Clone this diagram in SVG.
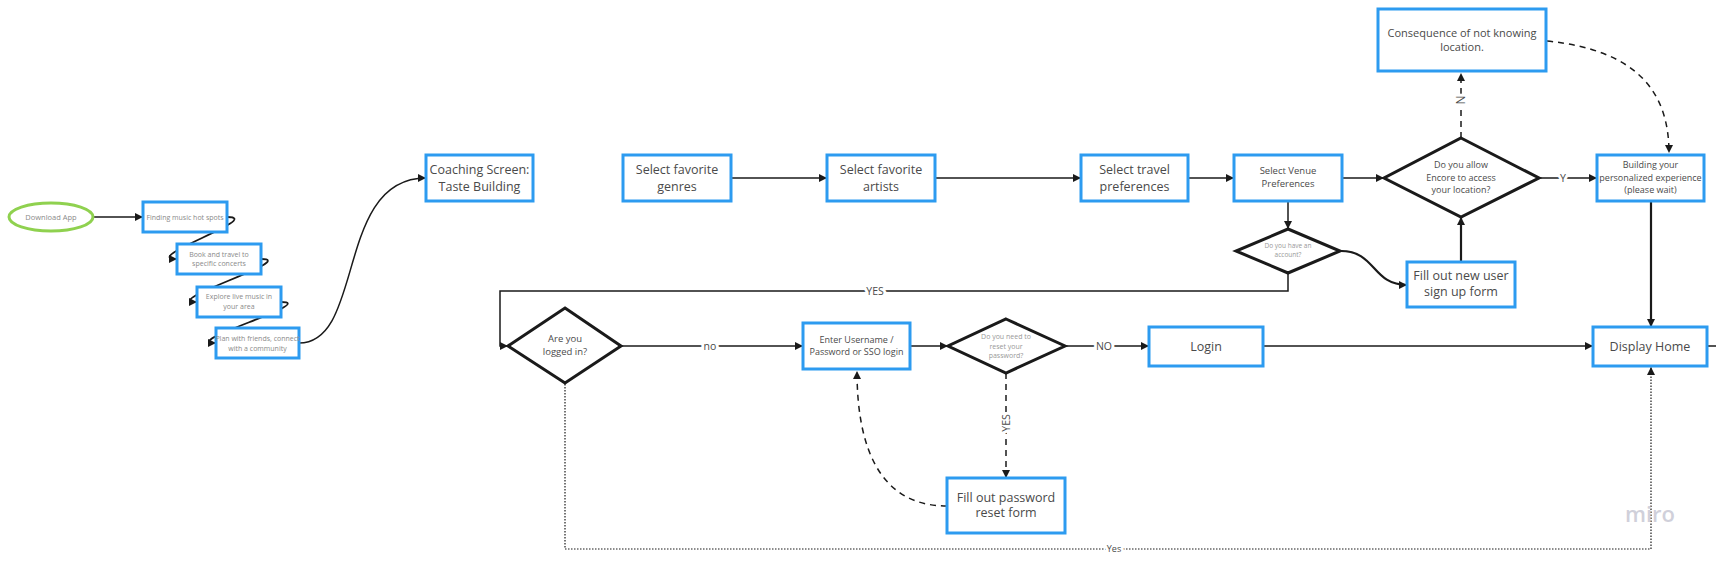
<svg xmlns="http://www.w3.org/2000/svg" width="1716" height="561" viewBox="0 0 1716 561">
<defs>
<marker id="arr" viewBox="0 0 8 8" refX="8" refY="4" markerWidth="8" markerHeight="8" markerUnits="userSpaceOnUse" orient="auto">
<path d="M0,0 L8,4 L0,8 z" fill="#1a1a1a"/>
</marker>
<style>
text{font-family:"Open Sans","Liberation Sans",sans-serif;text-anchor:middle;fill:#4a4a4a}
.box{fill:#ffffff;stroke:#2d9bf0;stroke-width:3}
.dia{fill:#ffffff;stroke:#1a1a1a;stroke-width:3;stroke-linejoin:miter}
.ell{fill:#ffffff;stroke:#8fd14f;stroke-width:3}
.c{fill:none;stroke:#1a1a1a;stroke-width:1.5;marker-end:url(#arr)}
.loop{stroke-width:1.8}
.thick{stroke-width:2.2}
.dash{stroke-dasharray:6 5}
.dot{stroke-dasharray:1.5 1.5;stroke-width:1.2}
.lbl{font-size:10.5px;stroke:#ffffff;stroke-width:6;paint-order:stroke;fill:#4a4a4a}
.t13{font-size:12.5px}
.t11{font-size:11px}
.t9{font-size:9px}
.t7{font-size:7px;fill:#8a8a8a}
.sm{fill:#999999}
</style>
</defs>
<rect width="1716" height="561" fill="#ffffff"/>

<g id="connectors">
<path class="c" d="M93,217 L143,217"/>
<path class="c loop" d="M227,217 C266,217 138,259 177,259"/>
<path class="c loop" d="M261,259 C300,259 158,302 197,302"/>
<path class="c loop" d="M281,302 C320,302 177,343 216,343"/>
<path class="c" d="M299,343 C365,343 335,178 426,178"/>
<path class="c" d="M731,178 L827,178"/>
<path class="c" d="M935,178 L1081,178"/>
<path class="c" d="M1188,178 L1234,178"/>
<path class="c" d="M1342,178 L1384,178"/>
<path class="c" d="M1539,178 L1597,178"/>
<path class="c dash" d="M1461,138 L1461,73"/>
<path class="c dash" d="M1547,41 C1635,50 1669,90 1669,153"/>
<path class="c thick" d="M1651,201 L1651,327"/>
<path class="c" d="M1288,201 L1288,229"/>
<path class="c thick" d="M1341,251 C1376,251 1372,285 1407,285"/>
<path class="c thick" d="M1461,262 L1461,217"/>
<path class="c" d="M1288,273 L1288,291 L500,291 L500,346 L508,346"/>
<path class="c" d="M621,346 L803,346"/>
<path class="c" d="M910,346 L948,346"/>
<path class="c" d="M1065,346 L1149,346"/>
<path class="c" d="M1263,346 L1593,346"/>
<path fill="none" stroke="#1a1a1a" stroke-width="1.5" d="M1708,346 L1716,346"/>
<path class="c dash" d="M1006,373 L1006,478"/>
<path class="c dash" d="M947,506 C878,506 857,445 857,371"/>
<path class="c dot" d="M565,384 L565,549 L1651,549 L1651,367"/>
<text class="lbl" x="875" y="294.5">YES</text>
<text class="lbl" x="710" y="349.5">no</text>
<text class="lbl" x="1104" y="349.5">NO</text>
<text class="lbl" x="1563" y="182">Y</text>
<text class="lbl" transform="translate(1465,100) rotate(-90)" style="font-size:12px">N</text>
<text class="lbl" transform="translate(1010,423) rotate(-90)">YES</text>
<text class="lbl" x="1114" y="552" style="font-size:9px">Yes</text>
</g>

<g id="download-app">
<ellipse class="ell" cx="51" cy="217" rx="42" ry="14"/>
<text class="t7" x="51" y="219.6" style="font-size:7.5px">Download App</text>
</g>
<g id="finding-hot-spots">
<rect class="box" x="143" y="202" width="84" height="30"/>
<text class="t7" x="185" y="219.5">Finding music hot spots</text>
</g>
<g id="book-travel">
<rect class="box" x="177" y="244" width="84" height="30"/>
<text class="t7" x="219" y="256.5">Book and travel to</text>
<text class="t7" x="219" y="265.5">specific concerts</text>
</g>
<g id="explore-live">
<rect class="box" x="197" y="287" width="84" height="30"/>
<text class="t7" x="239" y="298.5">Explore live music in</text>
<text class="t7" x="239" y="308.5">your area</text>
</g>
<g id="plan-friends">
<rect class="box" x="216" y="328" width="83" height="30"/>
<text class="t7" x="257.5" y="341">Plan with friends, connect</text>
<text class="t7" x="257.5" y="350.5">with a community</text>
</g>
<g id="coaching-screen">
<rect class="box" x="426" y="155" width="107" height="46"/>
<text class="t13" x="479.5" y="173.5">Coaching Screen:</text>
<text class="t13" x="479.5" y="190.5">Taste Building</text>
</g>
<g id="select-genres">
<rect class="box" x="623" y="155" width="108" height="46"/>
<text class="t13" x="677" y="173.5">Select favorite</text>
<text class="t13" x="677" y="190.5">genres</text>
</g>
<g id="select-artists">
<rect class="box" x="827" y="155" width="108" height="46"/>
<text class="t13" x="881" y="173.5">Select favorite</text>
<text class="t13" x="881" y="190.5">artists</text>
</g>
<g id="select-travel">
<rect class="box" x="1081" y="155" width="107" height="46"/>
<text class="t13" x="1134.5" y="173.5">Select travel</text>
<text class="t13" x="1134.5" y="190.5">preferences</text>
</g>
<g id="select-venue">
<rect class="box" x="1234" y="155" width="108" height="46"/>
<text x="1288" y="174.3" style="font-size:9.5px">Select Venue</text>
<text x="1288" y="186.6" style="font-size:9.5px">Preferences</text>
</g>
<g id="allow-location">
<polygon class="dia" points="1461,138 1539,178 1461,217 1384,178"/>
<text class="t9" x="1461" y="168">Do you allow</text>
<text class="t9" x="1461" y="181">Encore to access</text>
<text class="t9" x="1461" y="193">your location?</text>
</g>
<g id="consequence">
<rect class="box" x="1378" y="9" width="168" height="62"/>
<text class="t11" x="1462" y="37">Consequence of not knowing</text>
<text class="t11" x="1462" y="51">location.</text>
</g>
<g id="building-experience">
<rect class="box" x="1597" y="155" width="107" height="46"/>
<text class="t9" x="1650.5" y="168">Building your</text>
<text class="t9" x="1650.5" y="181">personalized experience</text>
<text class="t9" x="1650.5" y="193">(please wait)</text>
</g>
<g id="have-account">
<polygon class="dia" points="1288,229 1340,251 1288,273 1236,251"/>
<text class="sm" x="1288" y="248.3" style="font-size:6.5px">Do you have an</text>
<text class="sm" x="1288" y="256.6" style="font-size:6.5px">account?</text>
</g>
<g id="new-user-form">
<rect class="box" x="1407" y="262" width="108" height="45"/>
<text class="t13" x="1461" y="279.5">Fill out new user</text>
<text class="t13" x="1461" y="296">sign up form</text>
</g>
<g id="display-home">
<rect class="box" x="1593" y="327" width="114" height="39"/>
<text class="t13" x="1650" y="350.5">Display Home</text>
</g>
<g id="logged-in">
<polygon class="dia" points="565,308 621,346 565,383 508,346"/>
<text x="565" y="342" style="font-size:9.5px">Are you</text>
<text x="565" y="355" style="font-size:9.5px">logged in?</text>
</g>
<g id="enter-username">
<rect class="box" x="803" y="323" width="107" height="46"/>
<text class="t9" x="856.5" y="343">Enter Username /</text>
<text class="t9" x="856.5" y="354.5">Password or SSO login</text>
</g>
<g id="reset-password">
<polygon class="dia" points="1006,319 1065,346 1006,373 948,346"/>
<text class="sm" x="1006" y="338.5" style="font-size:7px">Do you need to</text>
<text class="sm" x="1006" y="348.5" style="font-size:7px">reset your</text>
<text class="sm" x="1006" y="357.5" style="font-size:7px">password?</text>
</g>
<g id="login">
<rect class="box" x="1149" y="327" width="114" height="39"/>
<text class="t13" x="1206" y="350.5">Login</text>
</g>
<g id="password-reset-form">
<rect class="box" x="947" y="478" width="118" height="55"/>
<text class="t13" x="1006" y="501.5">Fill out password</text>
<text class="t13" x="1006" y="517">reset form</text>
</g>
<text x="1650" y="522" style="font-size:22px;font-weight:600;fill:#d0d0da">miro</text>
</svg>
